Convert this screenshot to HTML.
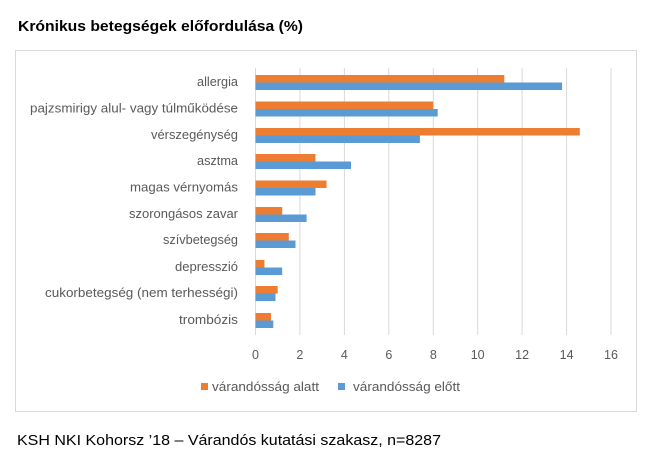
<!DOCTYPE html>
<html><head><meta charset="utf-8"><style>
body{margin:0;background:#fff;width:655px;height:461px;overflow:hidden}
svg{display:block;font-family:"Liberation Sans",sans-serif}
</style></head><body>
<svg width="655" height="461" viewBox="0 0 655 461">
<text x="18" y="31" font-size="14.5" font-weight="bold" fill="#000" textLength="285" lengthAdjust="spacingAndGlyphs">Krónikus betegségek előfordulása (%)</text>
<rect x="15.5" y="50.5" width="621" height="361" fill="#fff" stroke="#d9d9d9"/>
<g stroke="#d9d9d9" stroke-width="1">
<line x1="255.5" y1="68" x2="255.5" y2="335"/><line x1="299.9" y1="68" x2="299.9" y2="335"/><line x1="344.4" y1="68" x2="344.4" y2="335"/><line x1="388.8" y1="68" x2="388.8" y2="335"/><line x1="433.3" y1="68" x2="433.3" y2="335"/><line x1="477.7" y1="68" x2="477.7" y2="335"/><line x1="522.1" y1="68" x2="522.1" y2="335"/><line x1="566.6" y1="68" x2="566.6" y2="335"/><line x1="611" y1="68" x2="611" y2="335"/>
</g>
<g font-size="12.5" fill="#595959" text-anchor="middle">
<text x="255.5" y="359">0</text><text x="299.9" y="359">2</text><text x="344.4" y="359">4</text><text x="388.8" y="359">6</text><text x="433.3" y="359">8</text><text x="477.7" y="359">10</text><text x="522.1" y="359">12</text><text x="566.6" y="359">14</text><text x="611" y="359">16</text>
</g>
<g font-size="13" fill="#595959" lengthAdjust="spacingAndGlyphs">
<text x="197" y="86" textLength="41" lengthAdjust="spacingAndGlyphs">allergia</text>
<text x="30" y="112.5" textLength="208" lengthAdjust="spacingAndGlyphs">pajzsmirigy alul- vagy túlműködése</text>
<text x="151" y="139" textLength="87" lengthAdjust="spacingAndGlyphs">vérszegénység</text>
<text x="197" y="165" textLength="41" lengthAdjust="spacingAndGlyphs">asztma</text>
<text x="130" y="191.5" textLength="108" lengthAdjust="spacingAndGlyphs">magas vérnyomás</text>
<text x="129" y="218" textLength="109" lengthAdjust="spacingAndGlyphs">szorongásos zavar</text>
<text x="163" y="244" textLength="75" lengthAdjust="spacingAndGlyphs">szívbetegség</text>
<text x="175" y="271" textLength="63" lengthAdjust="spacingAndGlyphs">depresszió</text>
<text x="45" y="297" textLength="193" lengthAdjust="spacingAndGlyphs">cukorbetegség (nem terhességi)</text>
<text x="179" y="324" textLength="59" lengthAdjust="spacingAndGlyphs">trombózis</text>
</g>
<g fill="#ed7d31">
<rect x="255.5" y="75" width="248.8" height="7.5"/>
<rect x="255.5" y="101.5" width="177.7" height="7.5"/>
<rect x="255.5" y="128" width="324.3" height="7.5"/>
<rect x="255.5" y="154" width="60" height="7.5"/>
<rect x="255.5" y="180.5" width="71.1" height="7.5"/>
<rect x="255.5" y="207" width="26.7" height="7.5"/>
<rect x="255.5" y="233" width="33.3" height="7.5"/>
<rect x="255.5" y="260" width="8.9" height="7.5"/>
<rect x="255.5" y="286" width="22.2" height="7.5"/>
<rect x="255.5" y="313" width="15.5" height="7.5"/>
</g>
<g fill="#5b9bd5">
<rect x="255.5" y="82.5" width="306.6" height="7.5"/>
<rect x="255.5" y="109" width="182.2" height="7.5"/>
<rect x="255.5" y="135.5" width="164.4" height="7.5"/>
<rect x="255.5" y="161.5" width="95.5" height="7.5"/>
<rect x="255.5" y="188" width="60" height="7.5"/>
<rect x="255.5" y="214.5" width="51.1" height="7.5"/>
<rect x="255.5" y="240.5" width="40" height="7.5"/>
<rect x="255.5" y="267.5" width="26.7" height="7.5"/>
<rect x="255.5" y="293.5" width="20" height="7.5"/>
<rect x="255.5" y="320.5" width="17.8" height="7.5"/>
</g>
<rect x="201" y="383" width="7" height="7" fill="#ed7d31"/>
<text x="212" y="391" font-size="13" fill="#595959" textLength="107" lengthAdjust="spacingAndGlyphs">várandósság alatt</text>
<rect x="338" y="383" width="7" height="7" fill="#5b9bd5"/>
<text x="353" y="391" font-size="13" fill="#595959" textLength="107" lengthAdjust="spacingAndGlyphs">várandósság előtt</text>
<text x="17" y="445" font-size="15" fill="#000" textLength="424" lengthAdjust="spacingAndGlyphs">KSH NKI Kohorsz ’18 – Várandós kutatási szakasz, n=8287</text>
</svg>
</body></html>
